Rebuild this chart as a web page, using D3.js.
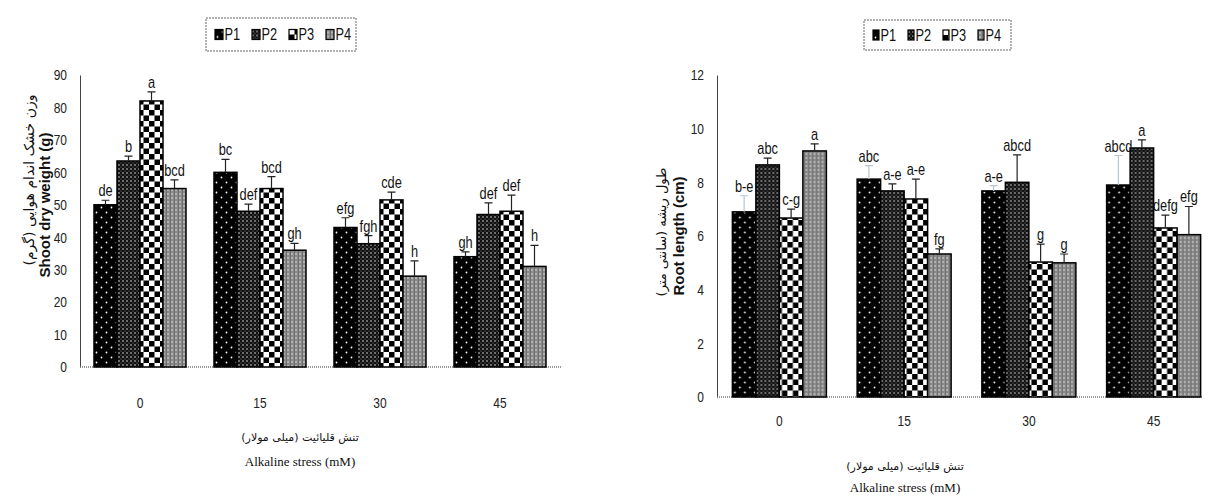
<!DOCTYPE html>
<html>
<head>
<meta charset="utf-8">
<script src="https://cdn.jsdelivr.net/npm/d3@7"></script>
<style>
  body { margin: 0; background: #fff; }
  svg text { font-family: "Liberation Sans", Arial, sans-serif; }
</style>
</head>
<body>
<div id="chart"></div>
<script>
const groups = ["0", "15", "30", "45"];
const series = ["P1", "P2", "P3", "P4"];

// shoot dry weight (g)
const shootTicks = [0, 10, 20, 30, 40, 50, 60, 70, 80, 90];
const shootP1 = [50, 60, 43, 34];
const shootP2 = [63.5, 48, 38, 47];
const shootP3 = [82, 55, 51.5, 48];
const shootP4 = [55, 36, 28, 31];
const shootErrP1 = [1.4, 4, 3, 1.5];
const shootErrP2 = [1.5, 2.2, 2.5, 3.6];
const shootErrP3 = [2.8, 3.7, 2.4, 5];
const shootErrP4 = [2.7, 2.1, 4.7, 6.5];
const shootLetP1 = ["de", "bc", "efg", "gh"];
const shootLetP2 = ["b", "def", "fgh", "def"];
const shootLetP3 = ["a", "bcd", "cde", "def"];
const shootLetP4 = ["bcd", "gh", "h", "h"];

// root length (cm)
const rootTicks = [0, 2, 4, 6, 8, 10, 12];
const rootP1 = [6.9, 8.12, 7.68, 7.9];
const rootP2 = [8.65, 7.68, 8.0, 9.28];
const rootP3 = [6.67, 7.38, 5.03, 6.3];
const rootP4 = [9.17, 5.33, 5.0, 6.05];
const rootErrP1 = [0.6, 0.5, 0.2, 1.1];
const rootErrP2 = [0.25, 0.26, 1.02, 0.3];
const rootErrP3 = [0.33, 0.74, 0.67, 0.48];
const rootErrP4 = [0.26, 0.19, 0.33, 1.05];
const rootLetP1 = ["b-e", "abc", "a-e", "abcd"];
const rootLetP2 = ["abc", "a-e", "abcd", "a"];
const rootLetP3 = ["c-g", "a-e", "g", "defg"];
const rootLetP4 = ["a", "fg", "g", "efg"];

const NARROW = 0.8; // squeeze text to look like a condensed face

function rows(means, errs, lets) {
    const out = [];
    groups.forEach((g, gi) => {
        series.forEach((s, si) => {
            out.push({ group: g, series: s, value: means[si][gi], err: errs[si][gi], letter: lets[si][gi] });
        });
    });
    return out;
}

const shootData = rows([shootP1, shootP2, shootP3, shootP4],
                       [shootErrP1, shootErrP2, shootErrP3, shootErrP4],
                       [shootLetP1, shootLetP2, shootLetP3, shootLetP4]);
const rootData = rows([rootP1, rootP2, rootP3, rootP4],
                      [rootErrP1, rootErrP2, rootErrP3, rootErrP4],
                      [rootLetP1, rootLetP2, rootLetP3, rootLetP4]);

const svg = d3.select("#chart")
    .append("svg")
    .attr("width", 1214)
    .attr("height", 498);

// fill patterns
const defs = svg.append("defs");

const p1 = defs.append("pattern").attr("id", "pat-P1")
    .attr("patternUnits", "userSpaceOnUse").attr("width", 10).attr("height", 10);
p1.append("rect").attr("width", 10).attr("height", 10).attr("fill", "#000");
p1.append("circle").attr("cx", 2.5).attr("cy", 2.5).attr("r", 0.9).attr("fill", "#fff");
p1.append("circle").attr("cx", 7.5).attr("cy", 7.5).attr("r", 0.9).attr("fill", "#fff");

const p2 = defs.append("pattern").attr("id", "pat-P2")
    .attr("patternUnits", "userSpaceOnUse").attr("width", 4).attr("height", 4);
p2.append("rect").attr("width", 4).attr("height", 4).attr("fill", "#111");
p2.append("circle").attr("cx", 1).attr("cy", 1).attr("r", 0.8).attr("fill", "#ddd");
p2.append("circle").attr("cx", 3).attr("cy", 3).attr("r", 0.55).attr("fill", "#888");

const p3 = defs.append("pattern").attr("id", "pat-P3")
    .attr("patternUnits", "userSpaceOnUse").attr("width", 11).attr("height", 11);
p3.append("rect").attr("width", 11).attr("height", 11).attr("fill", "#fff");
p3.append("rect").attr("width", 5.5).attr("height", 5.5).attr("fill", "#000");
p3.append("rect").attr("x", 5.5).attr("y", 5.5).attr("width", 5.5).attr("height", 5.5).attr("fill", "#000");

const p4 = defs.append("pattern").attr("id", "pat-P4")
    .attr("patternUnits", "userSpaceOnUse").attr("width", 4).attr("height", 4);
p4.append("rect").attr("width", 4).attr("height", 4).attr("fill", "#8a8a8a");
p4.append("circle").attr("cx", 2).attr("cy", 2).attr("r", 0.8).attr("fill", "#e6e6e6");
p4.append("rect").attr("x", 0).attr("y", 0).attr("width", 0.8).attr("height", 4).attr("fill", "#666");

function drawPanel(cfg) {
    const x0 = d3.scaleBand()
        .domain(groups)
        .range([cfg.left, cfg.right])
        .paddingInner(cfg.pad)
        .paddingOuter(cfg.pad / 2);

    const x1 = d3.scaleBand()
        .domain(series)
        .range([0, x0.bandwidth()]);

    const y = d3.scaleLinear()
        .domain([0, d3.max(cfg.ticks)])
        .range([cfg.bottom, cfg.top]);

    const g = svg.append("g");

    // y axis
    const yAxis = g.append("g")
        .attr("transform", `translate(${cfg.left},0)`)
        .call(d3.axisLeft(y).tickValues(cfg.ticks).tickSize(0).tickPadding(13));
    yAxis.select(".domain").attr("stroke", "#444").attr("stroke-width", 1);
    yAxis.selectAll("text")
        .attr("x", -13 / NARROW)
        .attr("transform", `scale(${NARROW},1)`)
        .style("font-size", "15px")
        .attr("fill", "#222");

    // x axis
    const xAxis = g.append("g")
        .attr("transform", `translate(0,${cfg.bottom})`)
        .call(d3.axisBottom(x0).tickSize(0).tickPadding(cfg.xTickPad));
    xAxis.select(".domain")
        .attr("d", `M${cfg.left},0H${cfg.axisEnd}`)
        .attr("stroke", "#777")
        .attr("stroke-dasharray", "1,1")
        .attr("stroke-width", 1.5);
    xAxis.selectAll("text")
        .attr("transform", `scale(${NARROW},1)`)
        .style("font-size", "15px")
        .attr("fill", "#222");

    const bars = g.selectAll(".bar-group")
        .data(d3.group(cfg.data, d => d.group))
        .join("g")
        .attr("transform", ([grp]) => `translate(${x0(grp)},0)`);

    bars.selectAll("rect")
        .data(([, vals]) => vals)
        .join("rect")
        .attr("x", d => x1(d.series))
        .attr("y", d => y(d.value))
        .attr("width", x1.bandwidth())
        .attr("height", d => cfg.bottom - y(d.value))
        .attr("fill", d => `url(#pat-${d.series})`)
        .attr("stroke", "#000")
        .attr("stroke-width", 1.5);

    // error bars (upper only)
    const errColor = d => (cfg.lightP1 && d.series === "P1") ? "#b8c4d0" : "#222";
    bars.selectAll(".err")
        .data(([, vals]) => vals)
        .join("path")
        .attr("class", "err")
        .attr("d", d => {
            const cx = x1(d.series) + x1.bandwidth() / 2;
            const top = y(d.value + d.err);
            return `M${cx},${y(d.value)}V${top}M${cx - 4},${top}H${cx + 4}`;
        })
        .attr("fill", "none")
        .attr("stroke", errColor)
        .attr("stroke-width", 1.2);

    bars.selectAll(".letter")
        .data(([, vals]) => vals)
        .join("text")
        .attr("class", "letter")
        .attr("transform", d => `translate(${x1(d.series) + x1.bandwidth() / 2},${y(d.value + d.err) - 4}) scale(${NARROW},1)`)
        .attr("text-anchor", "middle")
        .style("font-size", "16px")
        .attr("fill", "#111")
        .text(d => d.letter);

    // y axis titles
    g.append("text")
        .attr("transform", `translate(${cfg.yFaX},${cfg.yFaY}) rotate(-90)`)
        .attr("text-anchor", "middle")
        .style("font-family", "'DejaVu Sans', sans-serif")
        .style("font-size", cfg.yFaSize)
        .attr("fill", "#111")
        .text(cfg.yFa);
    g.append("text")
        .attr("transform", `translate(${cfg.yEnX},${cfg.yEnY}) rotate(-90)`)
        .attr("text-anchor", "middle")
        .style("font-size", "15px")
        .style("font-weight", "bold")
        .attr("fill", "#111")
        .text(cfg.yEn);

    // x axis titles
    g.append("text")
        .attr("x", cfg.xTitleX)
        .attr("y", cfg.xFaY)
        .attr("text-anchor", "middle")
        .style("font-family", "'DejaVu Sans', sans-serif")
        .style("font-size", "11px")
        .attr("fill", "#111")
        .text("تنش قلیائیت (میلی مولار)");
    g.append("text")
        .attr("x", cfg.xTitleX)
        .attr("y", cfg.xEnY)
        .attr("text-anchor", "middle")
        .style("font-family", "'Liberation Serif', serif")
        .style("font-size", "13px")
        .attr("fill", "#111")
        .text("Alkaline  stress (mM)");

    // legend
    const lg = g.append("g");
    lg.append("rect")
        .attr("x", cfg.legend.x)
        .attr("y", cfg.legend.y)
        .attr("width", cfg.legend.w)
        .attr("height", cfg.legend.h)
        .attr("fill", "none")
        .attr("stroke", "#666")
        .attr("stroke-dasharray", "2,1");
    const items = lg.selectAll(".item")
        .data(series)
        .join("g")
        .attr("transform", (d, i) => `translate(${cfg.legend.x + cfg.legend.first + i * cfg.legend.step},${cfg.legend.y + cfg.legend.h / 2})`);
    items.append("rect")
        .attr("x", 0)
        .attr("y", -5)
        .attr("width", cfg.legend.mark)
        .attr("height", 10)
        .attr("fill", d => `url(#pat-${d})`)
        .attr("stroke", "#000")
        .attr("stroke-width", 1.2);
    items.append("text")
        .attr("transform", `translate(${cfg.legend.mark + 1.5},5.5) scale(${NARROW},1)`)
        .style("font-size", "16px")
        .attr("fill", "#111")
        .text(d => d);
}

drawPanel({
    data: shootData,
    ticks: shootTicks,
    left: 80, right: 560, axisEnd: 562,
    pad: 1 - 92 / 120,
    top: 75, bottom: 367,
    xTickPad: 30,
    lightP1: false,
    yFa: "وزن خشک اندام هوایی (گرم)",
    yEn: "Shoot dry weight  (g)",
    yFaX: 34, yFaY: 180, yFaSize: "14px",
    yEnX: 50, yEnY: 205,
    xTitleX: 300, xFaY: 441, xEnY: 466,
    legend: { x: 206, y: 18, w: 150, h: 33, first: 9, step: 37, mark: 8 }
});

drawPanel({
    data: rootData,
    ticks: rootTicks,
    left: 717, right: 1216, axisEnd: 1202,
    pad: 1 - 94 / 124.75,
    top: 75, bottom: 397,
    xTickPad: 18,
    lightP1: true,
    yFa: "طول ریشه (سانتی متر)",
    yEn: "Root length  (cm)",
    yFaX: 666, yFaY: 232, yFaSize: "13px",
    yEnX: 684, yEnY: 236,
    xTitleX: 905, xFaY: 470, xEnY: 492,
    legend: { x: 864, y: 20, w: 147, h: 30, first: 9, step: 35, mark: 6 }
});
</script>
</body>
</html>
